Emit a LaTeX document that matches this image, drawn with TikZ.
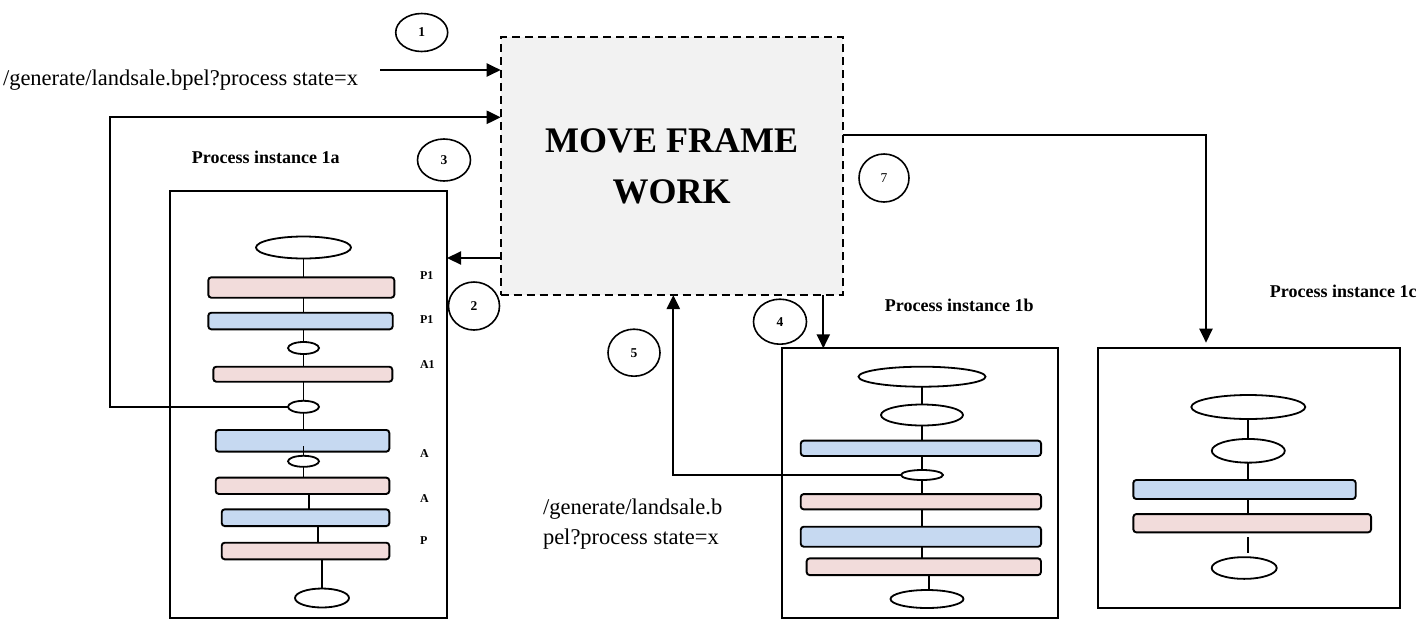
\documentclass[tikz,border=0pt]{standalone}
\usepackage{fontspec}
\setmainfont{Liberation Serif}
\usetikzlibrary{shapes.geometric,arrows.meta}
\definecolor{pinkc}{HTML}{F2DCDB}
\definecolor{bluec}{HTML}{C6D9F1}
\definecolor{boxgray}{HTML}{F2F2F2}
\begin{document}
\begin{tikzpicture}[x=1pt,y=-1pt,
  every node/.style={inner sep=0pt, outer sep=0pt},
  sz/.style 2 args={minimum width=#1pt, minimum height=#2pt},
  frame/.style={draw, line width=1.9pt, rectangle},
  pinkbar/.style={draw, line width=1.9pt, rounded corners=3pt, fill=pinkc, rectangle},
  bluebar/.style={draw, line width=1.9pt, rounded corners=3pt, fill=bluec, rectangle},
  oval/.style={draw, ellipse, line width=1.8pt, fill=white},
  num/.style={draw, ellipse, line width=1.6pt, font=\fontsize{13.5}{15}\selectfont\bfseries},
  lnk/.style={line width=1.8pt},
  arr/.style={line width=2.2pt, -{Triangle[length=14pt,width=13pt]}},
  plain/.style={font=\fontsize{22.5}{30}\selectfont},
  ptitle/.style={font=\fontsize{18}{22}\selectfont\bfseries},
  tag/.style={font=\fontsize{12}{14}\selectfont\bfseries, anchor=west}
]
\useasboundingbox (0,0) rectangle (1421,619);

% main frame
\node[draw, dashed, dash pattern=on 8pt off 5pt, line width=1.9pt, fill=boxgray, sz={342}{258}, align=center,
      font=\fontsize{36}{51}\selectfont\bfseries] (mf) at (671.7,166) {MOVE FRAME\\WORK};

% texts
\node[plain, anchor=base west] (t1) at (3,85) {/generate/landsale.bpel?process state=x};
\node[plain, anchor=base west] (t2) at (543,514) {/generate/landsale.b};
\node[plain, anchor=base west] (t3) at (543,544) {pel?process state=x};
\node[ptitle] (pa) at (265.8,157.3) {Process instance 1a};
\node[ptitle] (pb) at (959.3,305) {Process instance 1b};
\node[ptitle] (pc) at (1343.3,291.7) {Process instance 1c};

% numbered circles
\node[num, sz={52}{38}] (c1) at (421.7,32.5) {1};
\node[num, sz={53}{42}] (c3) at (444,160) {3};
\node[num, sz={51}{48}] (c2) at (474,306) {2};
\node[num, sz={53}{45}] (c4) at (780,321.7) {4};
\node[num, sz={52}{47}] (c5) at (634,352.7) {5};
\node[num, sz={50}{48}, font=\fontsize{13.5}{15}\selectfont] (c7) at (884,178) {7};

% panel 1a
\node[frame, sz={277}{427}] (box1a) at (308.5,404.5) {};
\node[oval, sz={95}{22}] (e1a1) at (303.5,247.5) {};
\node[pinkbar, sz={186}{20.4}] (r1a1) at (301.3,287.5) {};
\node[bluebar, sz={184.4}{16.6}] (r1a2) at (300.5,321) {};
\node[oval, sz={31}{12}] (e1a2) at (303.5,348) {};
\node[pinkbar, sz={179}{15}] (r1a3) at (302.8,374.2) {};
\node[oval, sz={31}{12}] (e1a3) at (303.5,406.8) {};
\node[bluebar, sz={173.6}{21.7}] (r1a4) at (302.5,440.8) {};
\node[oval, sz={31}{11}] (e1a4) at (303.5,461.3) {};
\node[pinkbar, sz={173.6}{16.3}] (r1a5) at (302.5,485.8) {};
\node[bluebar, sz={167.6}{16.7}] (r1a6) at (305.5,517.7) {};
\node[pinkbar, sz={167.6}{16.6}] (r1a7) at (305.5,551) {};
\node[oval, sz={54}{19}] (e1a5) at (322,598) {};
\node[tag] (l1) at (420,275.7) {P1};
\node[tag] (l2) at (420,320) {P1};
\node[tag] (l3) at (420,364.3) {A1};
\node[tag] (l4) at (420,454) {A};
\node[tag] (l5) at (420,498.3) {A};
\node[tag] (l6) at (420,541) {P};

% panel 1b
\node[frame, sz={276.6}{270}] (box1b) at (920,483.3) {};
\node[oval, sz={127}{20}] (e1b1) at (922,376.7) {};
\node[oval, sz={82}{21}] (e1b2) at (922,415) {};
\node[bluebar, sz={240.3}{15.3}] (r1b1) at (920.9,448.3) {};
\node[oval, sz={42}{10}] (e1b3) at (922,475) {};
\node[pinkbar, sz={240.3}{15.3}] (r1b2) at (920.9,501.7) {};
\node[bluebar, sz={240.3}{20}] (r1b3) at (920.9,536.7) {};
\node[pinkbar, sz={234.3}{16.7}] (r1b4) at (923.8,566.7) {};
\node[oval, sz={73}{18}] (e1b4) at (927,599) {};

% panel 1c
\node[frame, sz={301.7}{260.6}] (box1c) at (1249.2,478) {};
\node[oval, sz={114}{24}] (e1c1) at (1248.3,407) {};
\node[oval, sz={73}{23.7}] (e1c2) at (1248.3,450.8) {};
\node[bluebar, sz={222.4}{19}] (r1c1) at (1244.5,489.5) {};
\node[pinkbar, sz={237.7}{18.3}] (r1c2) at (1252.2,523.2) {};
\node[oval, sz={65}{21.7}] (e1c3) at (1244.2,568) {};

% helper coordinates
\coordinate (k1) at (309,0);
\coordinate (k2) at (318.3,0);
\coordinate (k3) at (929.3,0);
\coordinate (st1) at (1248.3,537);
\coordinate (st2) at (1248.3,552.5);
\coordinate (s1) at (380,70);
\coordinate (s2) at (0,258);
\coordinate (c3p) at (110,117.3);
\coordinate (x4) at (823.3,0);
\coordinate (x5) at (673.3,0);
\coordinate (s7) at (0,135);
\coordinate (x7) at (1206,0);

% panel 1a links
\draw[lnk] (e1a1.south) -- (e1a1.south |- r1a1.north);
\draw[lnk] (e1a1.south |- r1a1.south) -- (e1a1.south |- r1a2.north);
\draw[lnk] (e1a1.south |- r1a2.south) -- (e1a2.north);
\draw[lnk] (e1a2.south) -- (e1a2.south |- r1a3.north);
\draw[lnk] (e1a2.south |- r1a3.south) -- (e1a3.north);
\draw[lnk] (e1a3.south) -- (e1a3.south |- r1a4.north);
\draw[lnk] (e1a4.north) -- ++(0,-10);
\draw[lnk] (e1a4.south) -- (e1a4.south |- r1a5.north);
\draw[lnk] (k1 |- r1a5.south) -- (k1 |- r1a6.north);
\draw[lnk] (k2 |- r1a6.south) -- (k2 |- r1a7.north);
\draw[lnk] (e1a5.north |- r1a7.south) -- (e1a5.north);

% panel 1b links
\draw[lnk] (e1b1.south) -- (e1b2.north);
\draw[lnk] (e1b2.south) -- (e1b2.south |- r1b1.north);
\draw[lnk] (e1b2.south |- r1b1.south) -- (e1b3.north);
\draw[lnk] (e1b3.south) -- (e1b3.south |- r1b2.north);
\draw[lnk] (e1b3.south |- r1b2.south) -- (e1b3.south |- r1b3.north);
\draw[lnk] (e1b3.south |- r1b3.south) -- (e1b3.south |- r1b4.north);
\draw[lnk] (k3 |- r1b4.south) -- (k3 |- e1b4.north);

% panel 1c links
\draw[lnk] (e1c1.south) -- (e1c2.north);
\draw[lnk] (e1c2.south) -- (e1c2.south |- r1c1.north);
\draw[lnk] (e1c2.south |- r1c1.south) -- (e1c2.south |- r1c2.north);
\draw[lnk] (st1) -- (st2);

% arrows
\draw[arr] (s1) -- (s1 -| mf.west);
\draw[arr] (mf.west |- s2) -- (box1a.east |- s2);
\draw[arr] (e1a3.west) -| (c3p) -- (c3p -| mf.west);
\draw[arr] (x4 |- mf.south) -- (x4 |- box1b.north);
\draw[arr] (e1b3.west) -| (x5 |- mf.south);
\draw[arr, shorten >=5pt] (mf.east |- s7) -| (x7 |- box1c.north);
\end{tikzpicture}
\end{document}
